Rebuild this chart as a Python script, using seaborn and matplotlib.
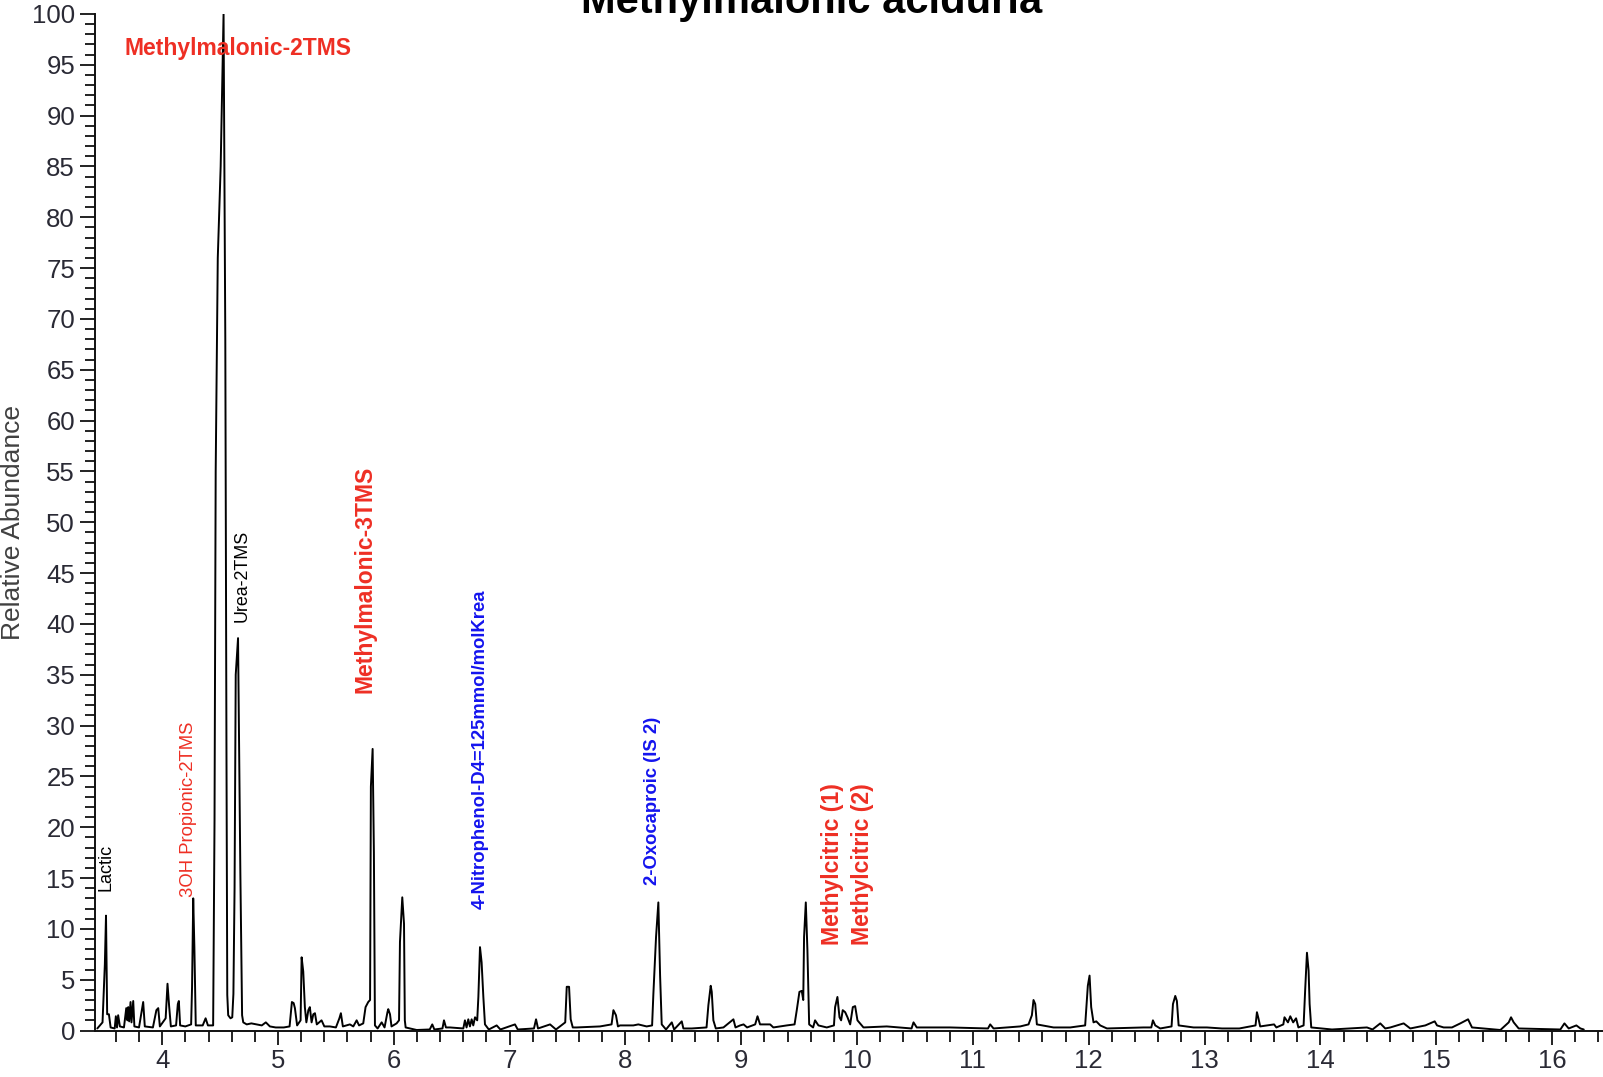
import pandas as pd
import matplotlib.pyplot as plt
import seaborn as sns
from matplotlib.ticker import MultipleLocator

# chromatogram trace: retention time (min) and relative abundance (%)
rt = [
    3.44, 3.485, 3.505, 3.515, 3.525, 3.54, 3.555, 3.59, 3.60, 3.61, 3.62, 3.635,
    3.67, 3.69, 3.70, 3.707, 3.715, 3.727, 3.735, 3.75, 3.76, 3.80, 3.836, 3.85,
    3.92, 3.95, 3.966, 3.98, 4.03, 4.046, 4.06, 4.075, 4.12, 4.135, 4.144, 4.155,
    4.20, 4.25, 4.258, 4.268, 4.278, 4.29, 4.35, 4.375, 4.395, 4.44,
    4.452, 4.462, 4.48, 4.505, 4.53, 4.545, 4.555, 4.562, 4.57, 4.59, 4.605,
    4.615, 4.625, 4.635, 4.655, 4.675, 4.69, 4.70, 4.73, 4.77, 4.815, 4.86,
    4.895, 4.93, 4.98, 5.05, 5.10, 5.12, 5.135, 5.146, 5.165, 5.195, 5.204,
    5.218, 5.232, 5.245, 5.262, 5.275, 5.29, 5.305, 5.319, 5.335, 5.376, 5.40,
    5.448, 5.50, 5.53, 5.543, 5.56, 5.621, 5.65, 5.679, 5.70, 5.736, 5.756,
    5.779, 5.795, 5.802, 5.817, 5.828, 5.837, 5.86, 5.895, 5.92, 5.945, 5.952,
    5.967, 5.98, 5.995, 6.024, 6.045, 6.053, 6.073, 6.088, 6.095, 6.102, 6.197,
    6.31, 6.332, 6.35, 6.42, 6.433, 6.45, 6.485, 6.60, 6.614, 6.628, 6.643,
    6.657, 6.672, 6.686, 6.701, 6.72, 6.73, 6.744, 6.758, 6.773, 6.787, 6.82,
    6.888, 6.92, 7.046, 7.07, 7.21, 7.228, 7.245, 7.349, 7.40, 7.48, 7.493,
    7.513, 7.527, 7.545, 7.579, 7.78, 7.88, 7.896, 7.918, 7.935, 7.953, 8.068,
    8.111, 8.183, 8.23, 8.241, 8.264, 8.284, 8.299, 8.313, 8.35, 8.40, 8.42,
    8.486, 8.50, 8.572, 8.70, 8.716, 8.736, 8.745, 8.759, 8.78, 8.846, 8.932,
    8.95, 8.99, 9.02, 9.05, 9.12, 9.14, 9.162, 9.249, 9.277, 9.393, 9.46,
    9.479, 9.502, 9.522, 9.535, 9.542, 9.557, 9.571, 9.586, 9.62, 9.637, 9.666,
    9.738, 9.80, 9.81, 9.83, 9.848, 9.862, 9.876, 9.897, 9.917, 9.94, 9.963,
    9.983, 10.003, 10.055, 10.256, 10.47, 10.487, 10.515, 10.746, 10.803, 11.13,
    11.149, 11.178, 11.408, 11.48, 11.509, 11.523, 11.538, 11.552, 11.696, 11.84,
    11.969, 11.992, 12.007, 12.021, 12.041, 12.065, 12.099, 12.157, 12.473, 12.54,
    12.554, 12.574, 12.617, 12.715, 12.727, 12.747, 12.761, 12.776, 12.905, 13.02,
    13.15, 13.30, 13.44, 13.452, 13.465, 13.48, 13.60, 13.62, 13.68, 13.69,
    13.72, 13.74, 13.765, 13.79, 13.81, 13.855, 13.869, 13.884, 13.898, 13.907,
    13.921, 14.10, 14.402, 14.45, 14.517, 14.56, 14.604, 14.719, 14.776, 14.906,
    14.987, 15.007, 15.064, 15.136, 15.208, 15.275, 15.309, 15.554, 15.626, 15.646,
    15.669, 15.712, 16.072, 16.107, 16.144, 16.21, 16.245, 16.274,
]
abundance = [
    0.2, 0.8, 6.5, 11.3, 1.6, 1.6, 0.3, 0.2, 1.4, 0.3, 1.5, 0.4,
    0.3, 2.2, 1.0, 2.3, 0.9, 2.8, 0.8, 2.9, 0.4, 0.3, 2.8, 0.4,
    0.3, 2.0, 2.2, 0.4, 1.2, 4.6, 2.4, 0.4, 0.5, 2.6, 2.9, 0.5,
    0.4, 0.6, 4.3, 13.0, 8.2, 0.5, 0.5, 1.2, 0.5, 0.5,
    20.7, 55.0, 76.0, 85.0, 100.0, 68.0, 27.7, 3.5, 1.5, 1.2, 1.3,
    3.6, 14.0, 35.0, 38.6, 15.5, 1.5, 0.8, 0.6, 0.7, 0.6, 0.5,
    0.8, 0.4, 0.3, 0.3, 0.4, 2.8, 2.7, 2.2, 0.5, 1.0, 7.2,
    5.8, 2.3, 0.8, 2.0, 2.3, 0.8, 1.6, 1.7, 0.6, 1.0, 0.4,
    0.4, 0.3, 1.2, 1.7, 0.4, 0.6, 0.4, 1.0, 0.5, 0.7, 2.3,
    2.8, 3.0, 24.0, 27.7, 17.5, 0.5, 0.2, 0.8, 0.3, 1.8, 2.1,
    1.6, 0.4, 0.5, 0.7, 1.0, 8.7, 13.1, 10.5, 1.0, 0.3, 0.05,
    0.1, 0.6, 0.1, 0.2, 1.0, 0.3, 0.3, 0.2, 1.0, 0.3, 1.1,
    0.4, 1.1, 0.5, 1.3, 1.0, 3.3, 8.2, 6.7, 3.3, 0.6, 0.1,
    0.5, 0.1, 0.6, 0.1, 0.2, 1.1, 0.2, 0.6, 0.1, 0.8, 4.3,
    4.3, 1.1, 0.3, 0.3, 0.4, 0.6, 2.0, 1.5, 0.4, 0.5, 0.5,
    0.6, 0.4, 0.5, 3.6, 9.2, 12.6, 5.4, 0.6, 0.1, 0.8, 0.1,
    0.9, 0.2, 0.2, 0.3, 2.5, 4.4, 3.8, 1.0, 0.2, 0.3, 1.1,
    0.3, 0.5, 0.6, 0.3, 0.6, 1.4, 0.6, 0.6, 0.3, 0.5, 0.6,
    2.0, 3.8, 3.9, 3.0, 9.2, 12.6, 7.9, 0.6, 0.3, 1.0, 0.5,
    0.3, 0.5, 2.3, 3.3, 1.3, 1.0, 2.0, 1.8, 1.3, 0.6, 2.3,
    2.4, 1.0, 0.3, 0.4, 0.2, 0.8, 0.3, 0.3, 0.3, 0.2,
    0.6, 0.2, 0.4, 0.6, 1.5, 3.0, 2.6, 0.6, 0.3, 0.3,
    0.5, 4.4, 5.4, 2.3, 0.8, 0.9, 0.5, 0.2, 0.3, 0.3,
    1.0, 0.5, 0.2, 0.4, 2.6, 3.4, 2.9, 0.5, 0.3, 0.3,
    0.2, 0.2, 0.5, 1.8, 1.2, 0.4, 0.6, 0.3, 0.6, 1.3,
    0.8, 1.4, 0.8, 1.2, 0.3, 0.5, 4.1, 7.65, 5.9, 2.6,
    0.3, 0.1, 0.3, 0.1, 0.7, 0.2, 0.3, 0.7, 0.2, 0.5,
    0.9, 0.5, 0.3, 0.3, 0.7, 1.1, 0.3, 0.05, 0.8, 1.3,
    0.8, 0.2, 0.1, 0.7, 0.2, 0.5, 0.2, 0.1,
]
assert len(rt) == len(abundance)

# peak labels
peak_names = ['Lactic', '3OH Propionic-2TMS', 'Urea-2TMS', 'Methylmalonic-3TMS',
              '4-Nitrophenol-D4=125mmol/molKrea', '2-Oxocaproic (IS 2)',
              'Methylcitric (1)', 'Methylcitric (2)']
peak_rt = [3.518, 4.228, 4.686, 5.748, 6.75, 8.233, 9.788, 10.047]
peak_y = [13.75, 13.16, 40.2, 33.2, 12.0, 14.3, 8.4, 8.4]

RED = '#ee2f24'
BLUE = '#1414ee'
peak_colors = ['black', RED, 'black', RED, BLUE, BLUE, RED, RED]
peak_sizes = [13, 13.3, 12.9, 16.5, 13.3, 13.3, 16.6, 16.6]
peak_weights = ['normal', 'normal', 'normal', 'bold', 'bold', 'bold', 'bold', 'bold']

sns.set_theme(style='ticks')
plt.rcParams['font.family'] = ['Liberation Sans', 'DejaVu Sans']

W, H = 1603, 1077
fig = plt.figure(figsize=(W / 100, H / 100), dpi=100)
ax = fig.add_axes([95 / W, 1 - 1030.5 / H, 1 - 95 / W, (1030.5 - 14) / H])

df = pd.DataFrame({'rt': rt, 'abund': abundance})
sns.lineplot(data=df, x='rt', y='abund', sort=False, estimator=None,
             color='black', linewidth=1.4, ax=ax)

ax.set_xlim(3.42, 16.44)
ax.set_ylim(0, 100)
ax.set_xlabel('')
ax.set_ylabel('')
ax.spines['top'].set_visible(False)
ax.spines['right'].set_visible(False)
for s in ['left', 'bottom']:
    ax.spines[s].set_linewidth(1.4)
    ax.spines[s].set_color('#111111')

ax.xaxis.set_major_locator(MultipleLocator(1))
ax.xaxis.set_minor_locator(MultipleLocator(0.2))
ax.yaxis.set_major_locator(MultipleLocator(5))
ax.yaxis.set_minor_locator(MultipleLocator(1))
ax.tick_params(axis='x', which='major', length=10, width=1.3, pad=3,
               labelsize=18.5, labelcolor='#2a2a35', color='#111111')
ax.tick_params(axis='x', which='minor', length=8, width=1.3, color='#111111')
ax.tick_params(axis='y', which='major', length=10.8, width=1.3, pad=3.6,
               labelsize=18.5, labelcolor='#2a2a35', color='#111111')
ax.tick_params(axis='y', which='minor', length=7.2, width=1.3, color='#111111')

# horizontal label of the main peak
ax.text(3.678, 95.97, 'Methylmalonic-2TMS', color=RED, fontsize=16.5,
        fontweight='bold', ha='left', va='baseline')

for name, x, y, c, fs, fw in zip(peak_names, peak_rt, peak_y, peak_colors,
                                 peak_sizes, peak_weights):
    ax.text(x, y, name, rotation=90, ha='center', va='bottom', color=c,
            fontsize=fs, fontweight=fw)

fig.text(812 / W, 1 - 13.4 / H, 'Methylmalonic aciduria', ha='center',
         va='baseline', fontsize=30, fontweight='bold', color='black')
fig.text(13.5 / W, 1 - 522 / H, 'Relative Abundance', rotation=90,
         ha='center', va='center', fontsize=19, color='#404040')

fig.savefig('out.png', dpi=100)
